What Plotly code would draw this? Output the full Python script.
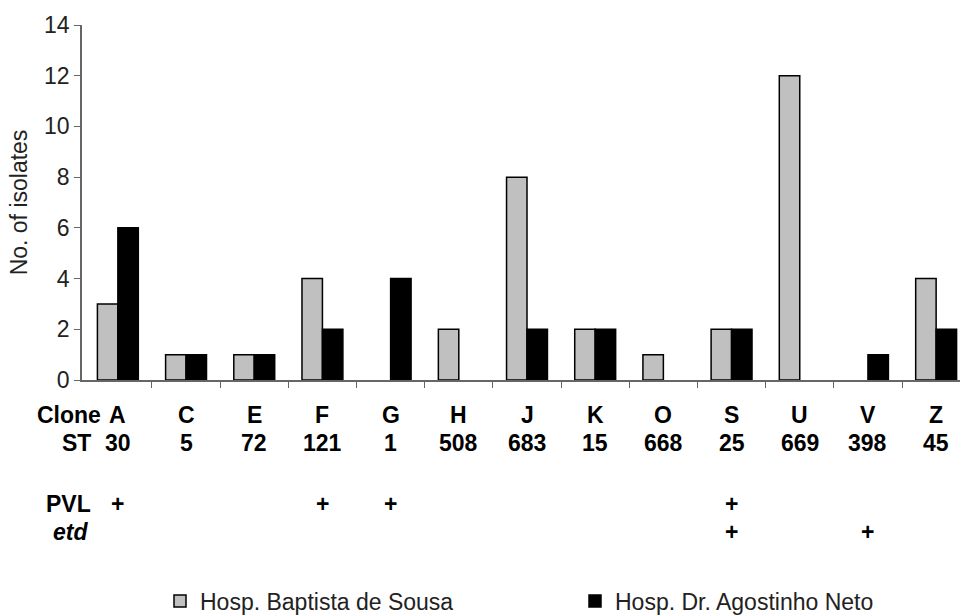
import plotly.graph_objects as go

clones = ["A", "C", "E", "F", "G", "H", "J", "K", "O", "S", "U", "V", "Z"]
st_types = ["30", "5", "72", "121", "1", "508", "683", "15", "668", "25", "669", "398", "45"]
pvl = ["+", "", "", "+", "+", "", "", "", "", "+", "", "", ""]
etd = ["", "", "", "", "", "", "", "", "", "+", "", "+", ""]
baptista = [3, 1, 1, 4, 0, 2, 8, 2, 1, 2, 12, 0, 4]
agostinho = [6, 1, 1, 2, 4, 0, 2, 2, 0, 2, 0, 1, 2]
y_ticks = [0, 2, 4, 6, 8, 10, 12, 14]

FONT = "Arial, Liberation Sans, Helvetica, sans-serif"
FS = 23
xs = list(range(len(clones)))

def nz(vals):
    # zero-count bars are not drawn in the reference
    return [v if v else None for v in vals]

fig = go.Figure()
fig.add_trace(go.Bar(x=xs, y=nz(baptista), name="Hosp. Baptista de Sousa", legend="legend",
                     showlegend=True,
                     marker=dict(color="#c0c0c0", line=dict(color="black", width=1.5))))
fig.add_trace(go.Bar(x=xs, y=nz(agostinho), name="Hosp. Dr. Agostinho Neto", legend="legend2",
                     showlegend=True,
                     marker=dict(color="black", line=dict(color="black", width=1.5))))

L, T, B = 82, 25, 235
H = 615 - T - B
W = 960 - L

def py(pix):
    return (615 - B - pix) / H

def px(pix):
    return (pix - L) / W

annotations = []
row_font = dict(family=FONT, size=FS, color="black")
annotations.append(dict(x=px(103), y=py(415), xref="paper", yref="paper", text="<b>Clone</b>",
                        showarrow=False, xanchor="right", yanchor="middle", font=row_font))
annotations.append(dict(x=px(93), y=py(443), xref="paper", yref="paper", text="<b>ST</b>",
                        showarrow=False, xanchor="right", yanchor="middle", font=row_font))
annotations.append(dict(x=px(93), y=py(504), xref="paper", yref="paper", text="<b>PVL</b>",
                        showarrow=False, xanchor="right", yanchor="middle", font=row_font))
annotations.append(dict(x=px(90), y=py(532), xref="paper", yref="paper", text="<b><i>etd</i></b>",
                        showarrow=False, xanchor="right", yanchor="middle", font=row_font))
for i in xs:
    annotations.append(dict(x=i, y=py(415), xref="x", yref="paper", text="<b>%s</b>" % clones[i],
                            showarrow=False, xanchor="center", yanchor="middle", font=row_font))
    annotations.append(dict(x=i, y=py(443), xref="x", yref="paper", text="<b>%s</b>" % st_types[i],
                            showarrow=False, xanchor="center", yanchor="middle", font=row_font))
    if pvl[i]:
        annotations.append(dict(x=i, y=py(504), xref="x", yref="paper", text="<b>%s</b>" % pvl[i],
                                showarrow=False, xanchor="center", yanchor="middle", font=row_font))
    if etd[i]:
        annotations.append(dict(x=i, y=py(532), xref="x", yref="paper", text="<b>%s</b>" % etd[i],
                                showarrow=False, xanchor="center", yanchor="middle", font=row_font))

leg_common = dict(orientation="h", xref="container", yref="container",
                  xanchor="left", yanchor="middle",
                  font=dict(family=FONT, size=FS, color="#222"),
                  bgcolor="rgba(0,0,0,0)", borderwidth=0)

fig.update_layout(
    width=960, height=615,
    showlegend=True,
    margin=dict(l=L, r=0, t=T, b=B, autoexpand=False),
    plot_bgcolor="white", paper_bgcolor="white",
    barmode="group", bargap=0.4, bargroupgap=0,
    font=dict(family=FONT, size=FS, color="#222"),
    xaxis=dict(range=[-0.526, 12.35], showgrid=False, zeroline=False,
               showline=True, linecolor="#666", linewidth=1.5,
               tickmode="array", tickvals=[i + 0.5 for i in xs[:-1]],
               ticks="outside", ticklen=6, tickcolor="#666", showticklabels=False,
               automargin=False),
    yaxis=dict(range=[0, 14], tickvals=y_ticks, showgrid=False, zeroline=False,
               showline=True, linecolor="#666", linewidth=1.5,
               ticks="outside", ticklen=6, tickcolor="#666", automargin=False,
               tickfont=dict(family=FONT, size=FS, color="#222"),
               title=dict(text="No. of isolates", font=dict(family=FONT, size=FS, color="#222"),
                          standoff=10)),
    legend=dict(x=160 / 960, y=1 - 601 / 615, **leg_common),
    legend2=dict(x=575 / 960, y=1 - 601 / 615, **leg_common),
    annotations=annotations,
)

fig.write_html("out.html", config={"displayModeBar": False},
               post_script="document.body.style.margin='0';document.body.style.overflow='hidden';")
